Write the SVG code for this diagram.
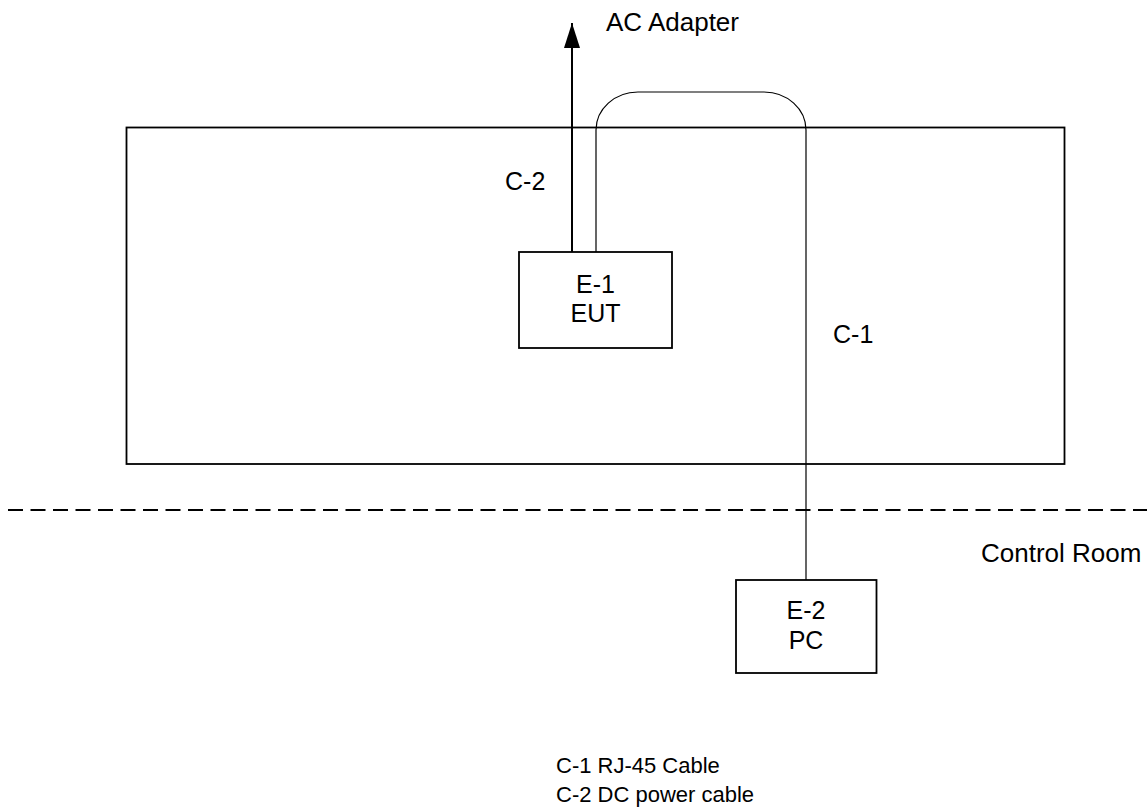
<svg xmlns="http://www.w3.org/2000/svg" width="1147" height="811" viewBox="0 0 1147 811">
<style>
text{font-family:"Liberation Sans",Arial,sans-serif;font-size:25px;fill:#000}
.box{fill:#fff;stroke:#000;stroke-width:1.8}
.cable{fill:none;stroke:#000;stroke-width:1.2}
.mid{text-anchor:middle}
.big{font-size:26px}
.leg{font-size:22px}
</style>
<defs>
<marker id="ah" markerUnits="userSpaceOnUse" markerWidth="26" markerHeight="18" refX="25" refY="8" orient="auto" viewBox="0 0 26 16">
<path d="M0,0 L25,8 L0,16 Z" fill="#000"/>
</marker>
</defs>
<rect id="room" x="126.5" y="127.5" width="938" height="336.5" fill="none" stroke="#000" stroke-width="1.8"/>
<line id="divider" x1="8" y1="510" x2="1147" y2="510" stroke="#000" stroke-width="2" stroke-dasharray="15 7.5"/>
<g id="connectors">
<line x1="572" y1="255" x2="572" y2="23" stroke="#000" stroke-width="2" marker-end="url(#ah)"/>
<path class="cable" d="M596,252 V130 A42 38 0 0 1 638,92 H764 A42 38 0 0 1 806,130 V580"/>
</g>
<g id="E-1">
<rect class="box" x="519" y="252" width="153" height="96"/>
<text class="mid" x="595.5" y="293">E-1</text>
<text class="mid" x="595.5" y="322">EUT</text>
</g>
<g id="E-2">
<rect class="box" x="736" y="580" width="140.5" height="93"/>
<text class="mid" x="806" y="619">E-2</text>
<text class="mid" x="806" y="649">PC</text>
</g>
<g id="labels">
<text class="big" x="606" y="31">AC Adapter</text>
<text x="505" y="190">C-2</text>
<text x="833" y="343">C-1</text>
<text class="big" x="981" y="562">Control Room</text>
<text class="leg" x="556" y="773">C-1 RJ-45 Cable</text>
<text class="leg" x="556" y="802">C-2 DC power cable</text>
</g>
</svg>
